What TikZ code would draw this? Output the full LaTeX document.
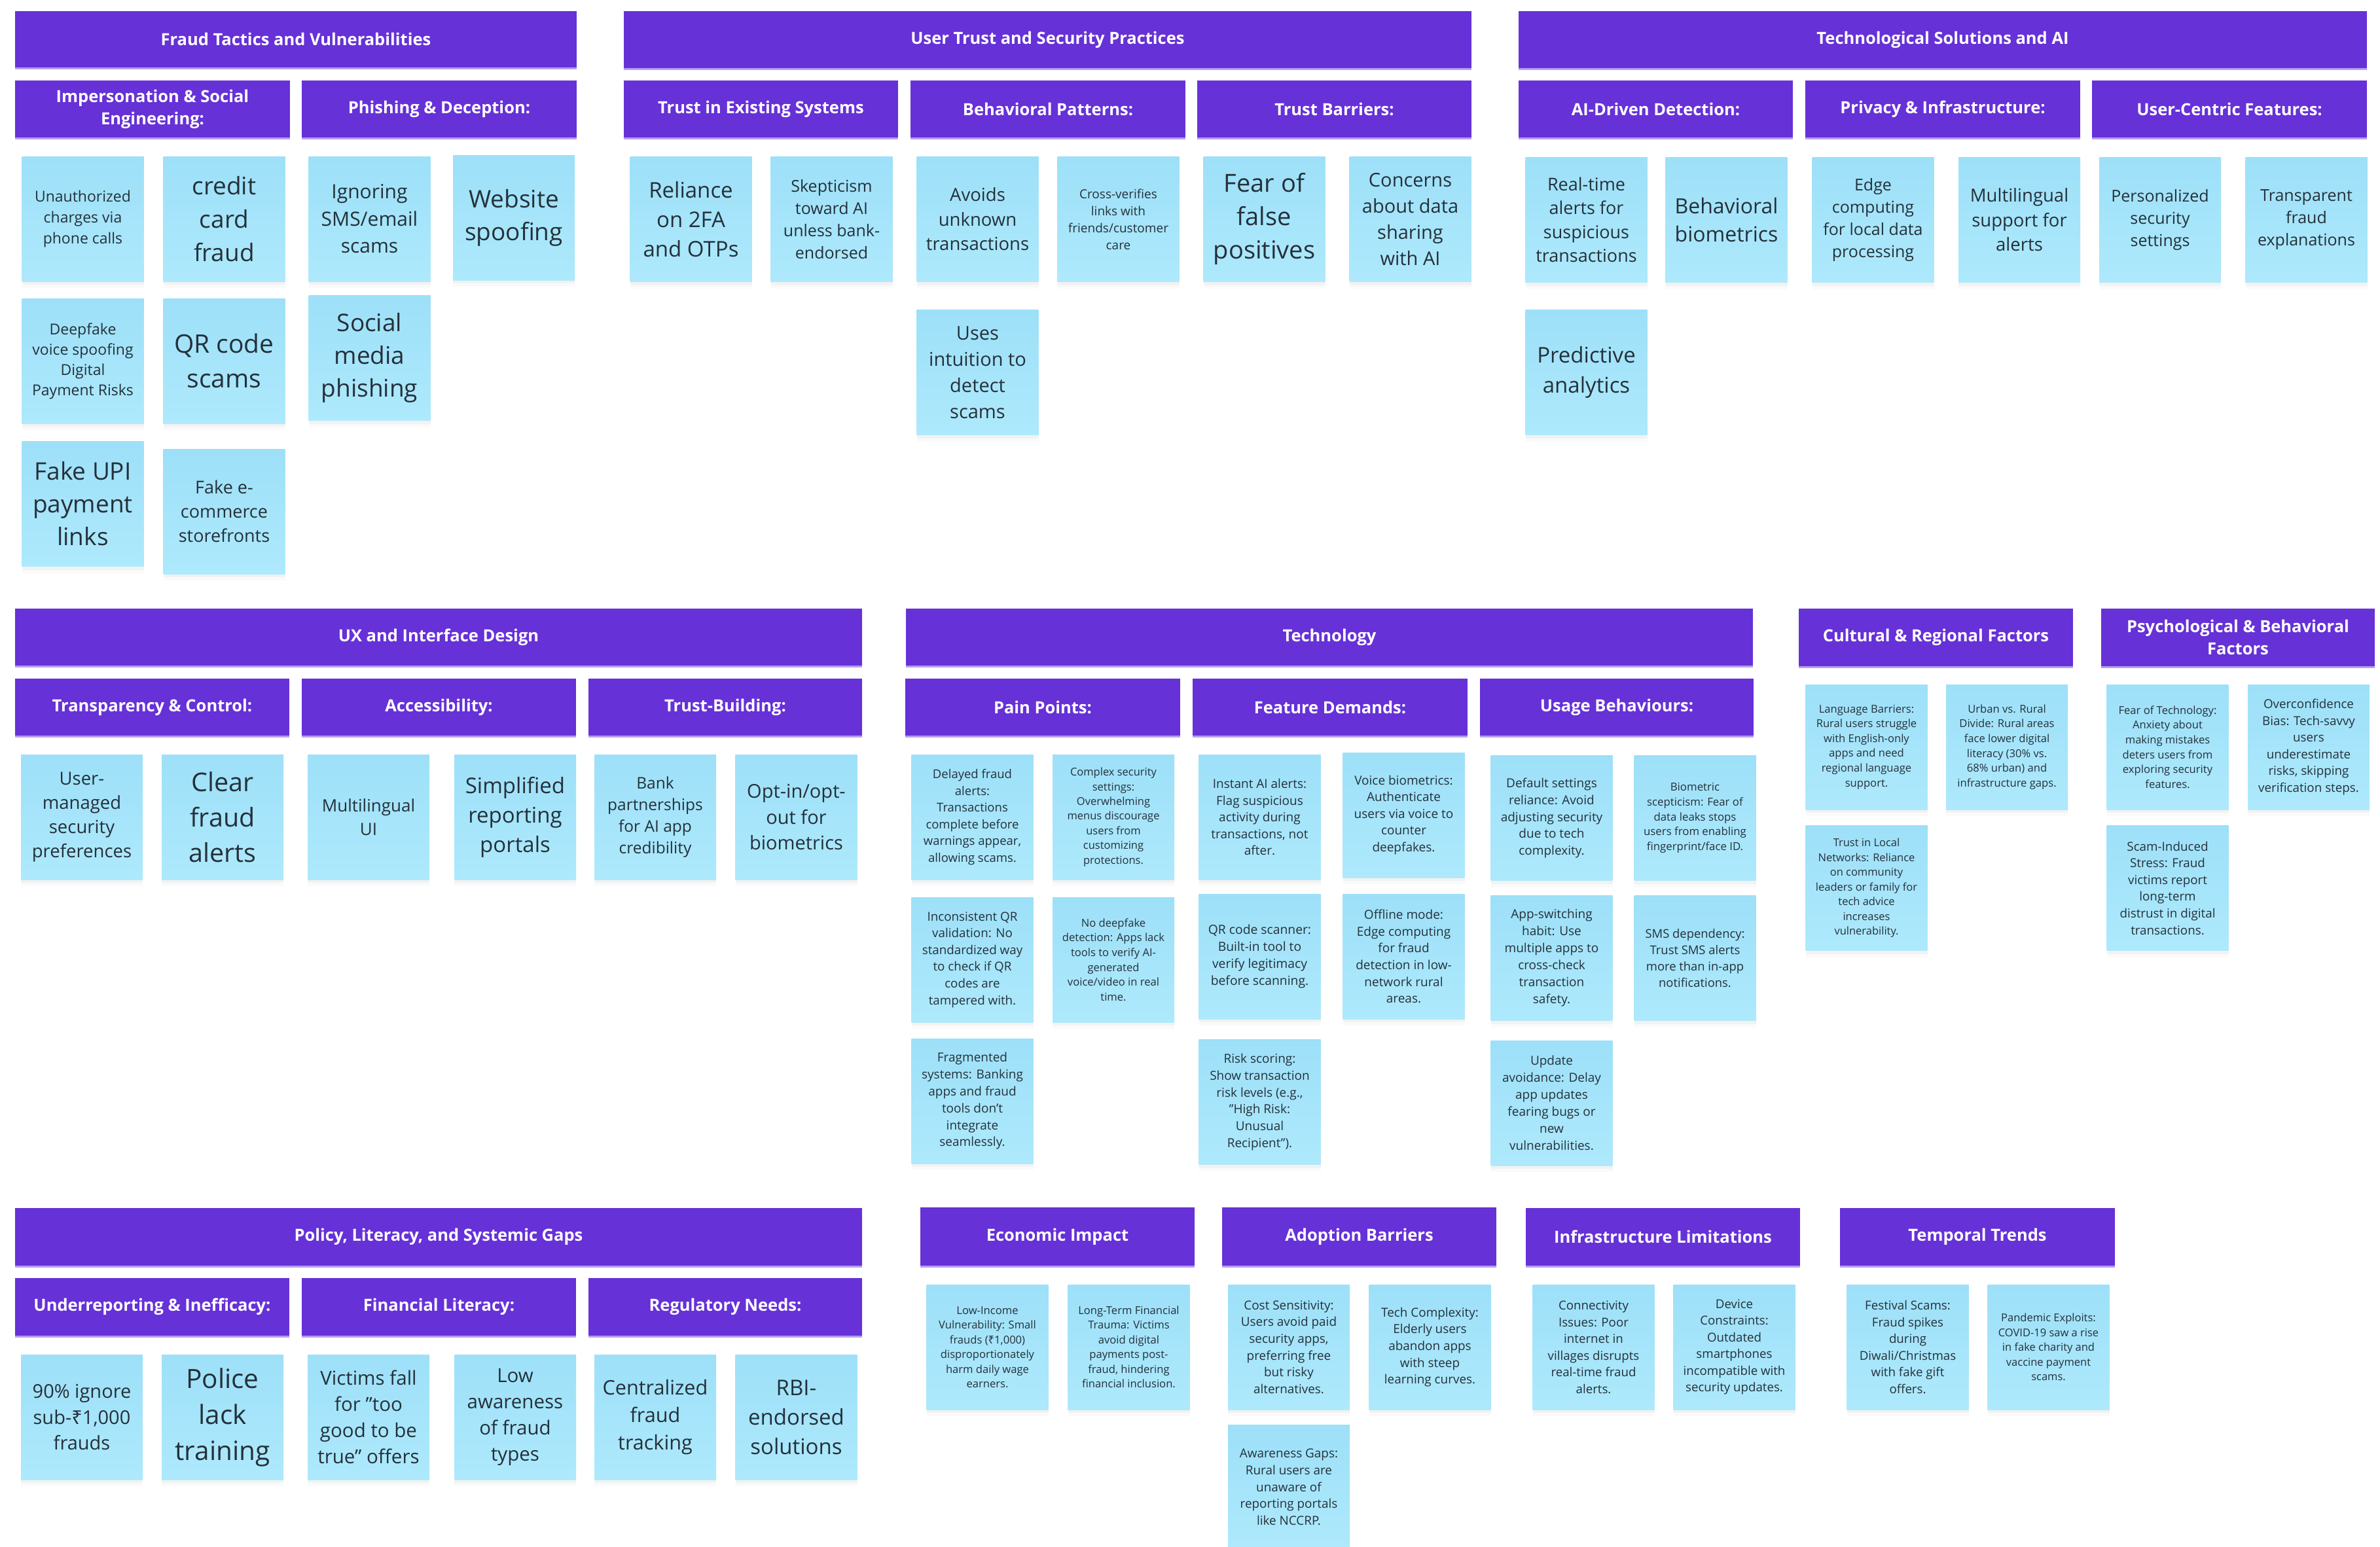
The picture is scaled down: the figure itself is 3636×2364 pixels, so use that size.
\documentclass[tikz,border=0pt]{standalone}
\usepackage{fontspec}
\setmainfont{Open Sans}
\newfontfamily\rupee{Noto Sans}
\usetikzlibrary{shadows}
\definecolor{hdrpurple}{HTML}{6631D7}
\definecolor{hdredge}{HTML}{B69DF0}
\definecolor{stktop}{HTML}{9DE0F8}
\definecolor{stkbot}{HTML}{AEE9FC}
\definecolor{stktext}{HTML}{24303A}
\tikzset{
  hdr/.style={fill=hdrpurple, text=white, align=center, inner sep=0pt,
    font=\bfseries\fontsize{25.5}{34}\selectfont,
    drop shadow={shadow xshift=0pt, shadow yshift=-3pt, fill=hdredge, opacity=1}},
  sticky/.style={top color=stktop, bottom color=stkbot, draw=none,
    minimum width=186pt, minimum height=191pt, inner sep=0pt, align=center, text=stktext,
    drop shadow={shadow xshift=0pt, shadow yshift=-10pt, opacity=0.04},
    drop shadow={shadow xshift=0pt, shadow yshift=-5pt, opacity=0.06}}
}
\newcommand\stk[5]{\node[sticky, font=\fontsize{#3}{#4}\selectfont] (#1) at (#2) {#5};}
\begin{document}
\begin{tikzpicture}[x=1pt, y=-1pt]
\fill[white] (0,0) rectangle (3636,2364);
\useasboundingbox (0,0) rectangle (3636,2364);

% ---------- Row 1 headers ----------
\node[hdr, minimum width=858pt, minimum height=86pt] (H1) at (452,60) {Fraud Tactics and Vulnerabilities};
\node[hdr, minimum width=1295pt, minimum height=87pt] (H2) at (1600.5,60.5) {User Trust and Security Practices};
\node[hdr, minimum width=1296pt, minimum height=87pt] (H3) at (2968,60.5) {Technological Solutions and AI};
\node[hdr, minimum width=420pt, minimum height=87pt] (S11) at (233,166.5) {Impersonation \& Social\\Engineering:};
\node[hdr, minimum width=420pt, minimum height=87pt] (S12) at (671,166.5) {Phishing \& Deception:};
\node[hdr, minimum width=419pt, minimum height=87pt] (S21) at (1162.5,166.5) {Trust in Existing Systems};
\node[hdr, minimum width=420pt, minimum height=87pt] (S22) at (1601,166.5) {Behavioral Patterns:};
\node[hdr, minimum width=419pt, minimum height=87pt] (S23) at (2038.5,166.5) {Trust Barriers:};
\node[hdr, minimum width=419pt, minimum height=87pt] (S31) at (2529.5,166.5) {AI-Driven Detection:};
\node[hdr, minimum width=420pt, minimum height=87pt] (S32) at (2968,166.5) {Privacy \& Infrastructure:};
\node[hdr, minimum width=420pt, minimum height=87pt] (S33) at (3406,166.5) {User-Centric Features:};

% ---------- Fraud stickies ----------
\stk{f1}{126.5,334.5}{23}{31.6}{Unauthorized\\charges via\\phone calls}
\stk{f2}{342.5,334.5}{37}{51}{credit\\card\\fraud}
\stk{f3}{126.5,551.5}{23}{31}{Deepfake\\voice spoofing\\Digital\\Payment Risks}
\stk{f4}{342.5,551.5}{39}{53}{QR code\\scams}
\stk{f5}{126.5,770}{37}{50}{Fake UPI\\payment\\links}
\stk{f6}{342.5,781.5}{27}{37}{Fake e-\\commerce\\storefronts}
\stk{f7}{564.5,334.5}{30}{41.6}{Ignoring\\SMS/email\\scams}
\stk{f8}{785,332.5}{37}{50}{Website\\spoofing}
\stk{f9}{564.5,547}{37}{50}{Social\\media\\phishing}

% ---------- User trust stickies ----------
\stk{u1}{1055.5,335}{33}{45}{Reliance\\on 2FA\\and OTPs}
\stk{u2}{1270.5,335}{25}{34}{Skepticism\\toward AI\\unless bank-\\endorsed}
\stk{u3}{1493.5,335}{27.5}{37.5}{Avoids\\unknown\\transactions}
\stk{u4}{1708.5,335}{19}{26}{Cross-verifies\\links with\\friends/customer\\care}
\stk{u5}{1931.5,335}{38}{51}{Fear of\\false\\positives}
\stk{u6}{2154.5,335}{29}{40}{Concerns\\about data\\sharing\\with AI}
\stk{u7}{1493.5,569}{29}{40}{Uses\\intuition to\\detect\\scams}

% ---------- Tech solutions stickies ----------
\stk{t1}{2423.5,336}{27}{36.5}{Real-time\\alerts for\\suspicious\\transactions}
\stk{t2}{2637.5,336}{32}{43}{Behavioral\\biometrics}
\stk{t3}{2861.5,336}{25}{34}{Edge\\computing\\for local data\\processing}
\stk{t4}{3085,336}{27.5}{37.5}{Multilingual\\support for\\alerts}
\stk{t5}{3300,336}{25}{34}{Personalized\\security\\settings}
\stk{t6}{3523.5,336}{25}{34}{Transparent\\fraud\\explanations}
\stk{t7}{2423.5,569}{33}{45.5}{Predictive\\analytics}

% ---------- Row 2 headers ----------
\node[hdr, minimum width=1294pt, minimum height=87pt] (H4) at (670,973.5) {UX and Interface Design};
\node[hdr, minimum width=419pt, minimum height=87pt] (S41) at (232.5,1080.5) {Transparency \& Control:};
\node[hdr, minimum width=419pt, minimum height=87pt] (S42) at (670.5,1080.5) {Accessibility:};
\node[hdr, minimum width=418pt, minimum height=87pt] (S43) at (1108,1080.5) {Trust-Building:};
\node[hdr, minimum width=1294pt, minimum height=87pt] (H5) at (2031,973.5) {Technology};
\node[hdr, minimum width=420pt, minimum height=87pt] (S51) at (1593,1080.5) {Pain Points:};
\node[hdr, minimum width=420pt, minimum height=87pt] (S52) at (2032,1080.5) {Feature Demands:};
\node[hdr, minimum width=418pt, minimum height=87pt] (S53) at (2470,1080.5) {Usage Behaviours:};
\node[hdr, minimum width=419pt, minimum height=88pt] (H6) at (2957.5,974) {Cultural \& Regional Factors};
\node[hdr, minimum width=418pt, minimum height=88pt] (H7) at (3419,974) {Psychological \& Behavioral\\Factors};

% ---------- UX stickies ----------
\stk{x1}{125,1248.5}{27.5}{37}{User-\\managed\\security\\preferences}
\stk{x2}{340,1248.5}{39.5}{53.7}{Clear\\fraud\\alerts}
\stk{x3}{563,1248.5}{26}{36}{Multilingual\\UI}
\stk{x4}{787,1248.5}{33}{45}{Simplified\\reporting\\portals}
\stk{x5}{1001,1248.5}{24.5}{33}{Bank\\partnerships\\for AI app\\credibility}
\stk{x6}{1216.5,1248.5}{29}{39.5}{Opt-in/opt-\\out for\\biometrics}

% ---------- Technology stickies ----------
\stk{p1}{1485.5,1248.5}{18.5}{25.5}{Delayed fraud\\alerts:\\Transactions\\complete before\\warnings appear,\\allowing scams.}
\stk{p2}{1701,1248.5}{16.5}{22.4}{Complex security\\settings:\\Overwhelming\\menus discourage\\users from\\customizing\\protections.}
\stk{p3}{1485.5,1466.5}{18.8}{25.6}{Inconsistent QR\\validation: No\\standardized way\\to check if QR\\codes are\\tampered with.}
\stk{p4}{1701,1466.5}{16.6}{22.6}{No deepfake\\detection: Apps lack\\tools to verify AI-\\generated\\voice/video in real\\time.}
\stk{p5}{1485.5,1682.5}{19}{25.8}{Fragmented\\systems: Banking\\apps and fraud\\tools don't\\integrate\\seamlessly.}
\stk{d1}{1924.5,1248.5}{19}{25.6}{Instant AI alerts:\\Flag suspicious\\activity during\\transactions, not\\after.}
\stk{d2}{2144.5,1245.5}{19}{25.5}{Voice biometrics:\\Authenticate\\users via voice to\\counter\\deepfakes.}
\stk{d3}{1924.5,1461.5}{19.3}{26.2}{QR code scanner:\\Built-in tool to\\verify legitimacy\\before scanning.}
\stk{d4}{2144.5,1461.5}{19}{25.7}{Offline mode:\\Edge computing\\for fraud\\detection in low-\\network rural\\areas.}
\stk{d5}{1924.5,1684}{19}{25.8}{Risk scoring:\\Show transaction\\risk levels (e.g.,\\"High Risk:\\Unusual\\Recipient").}
\stk{b1}{2370.5,1250}{19}{25.8}{Default settings\\reliance: Avoid\\adjusting security\\due to tech\\complexity.}
\stk{b2}{2589.5,1250}{16.8}{22.8}{Biometric\\scepticism: Fear of\\data leaks stops\\users from enabling\\fingerprint/face ID.}
\stk{b3}{2370.5,1464}{19}{26}{App-switching\\habit: Use\\multiple apps to\\cross-check\\transaction\\safety.}
\stk{b4}{2589.5,1464}{18.4}{25}{SMS dependency:\\Trust SMS alerts\\more than in-app\\notifications.}
\stk{b5}{2370.5,1685.5}{19}{26}{Update\\avoidance: Delay\\app updates\\fearing bugs or\\new\\vulnerabilities.}

% ---------- Cultural / Psychological stickies ----------
\stk{c1}{2851.5,1141.5}{16.6}{22.6}{Language Barriers:\\Rural users struggle\\with English-only\\apps and need\\regional language\\support.}
\stk{c2}{3066,1141.5}{16.6}{22.6}{Urban vs. Rural\\Divide: Rural areas\\face lower digital\\literacy (30\% vs.\\68\% urban) and\\infrastructure gaps.}
\stk{c3}{2851.5,1357}{16.5}{22.5}{Trust in Local\\Networks: Reliance\\on community\\leaders or family for\\tech advice\\increases\\vulnerability.}
\stk{s1}{3311.5,1141.5}{16.6}{22.6}{Fear of Technology:\\Anxiety about\\making mistakes\\deters users from\\exploring security\\features.}
\stk{s2}{3527,1141.5}{18.8}{25.6}{Overconfidence\\Bias: Tech-savvy\\users\\underestimate\\risks, skipping\\verification steps.}
\stk{s3}{3311.5,1357}{18.8}{25.6}{Scam-Induced\\Stress: Fraud\\victims report\\long-term\\distrust in digital\\transactions.}

% ---------- Row 3 headers ----------
\node[hdr, minimum width=1294pt, minimum height=88pt] (H8) at (670,1890) {Policy, Literacy, and Systemic Gaps};
\node[hdr, minimum width=419pt, minimum height=88pt] (S81) at (232.5,1997) {Underreporting \& Inefficacy:};
\node[hdr, minimum width=419pt, minimum height=88pt] (S82) at (670.5,1997) {Financial Literacy:};
\node[hdr, minimum width=418pt, minimum height=88pt] (S83) at (1108,1997) {Regulatory Needs:};
\node[hdr, minimum width=419pt, minimum height=89pt] (H9) at (1615.5,1889.5) {Economic Impact};
\node[hdr, minimum width=419pt, minimum height=89pt] (H10) at (2076.5,1889.5) {Adoption Barriers};
\node[hdr, minimum width=419pt, minimum height=88pt] (H11) at (2540.5,1890) {Infrastructure Limitations};
\node[hdr, minimum width=420pt, minimum height=88pt] (H12) at (3021,1890) {Temporal Trends};

% ---------- Policy stickies ----------
\stk{y1}{125,2165.5}{29}{39.5}{90\% ignore\\sub-{\rupee ₹}1,000\\frauds}
\stk{y2}{340,2165.5}{40.5}{55}{Police\\lack\\training}
\stk{y3}{563,2165.5}{29.5}{40}{Victims fall\\for "too\\good to be\\true" offers}
\stk{y4}{787,2165.5}{29.5}{40}{Low\\awareness\\of fraud\\types}
\stk{y5}{1001,2165.5}{30.6}{41.7}{Centralized\\fraud\\tracking}
\stk{y6}{1216.5,2165.5}{33}{45}{RBI-\\endorsed\\solutions}

% ---------- Economic / Adoption stickies ----------
\stk{e1}{1508.5,2058.5}{16.6}{22.5}{Low-Income\\Vulnerability: Small\\frauds ({\rupee ₹}1,000)\\disproportionately\\harm daily wage\\earners.}
\stk{e2}{1724.5,2058.5}{16.6}{22.5}{Long-Term Financial\\Trauma: Victims\\avoid digital\\payments post-\\fraud, hindering\\financial inclusion.}
\stk{a1}{1969,2058.5}{18.9}{25.7}{Cost Sensitivity:\\Users avoid paid\\security apps,\\preferring free\\but risky\\alternatives.}
\stk{a2}{2184.5,2058.5}{18.9}{25.7}{Tech Complexity:\\Elderly users\\abandon apps\\with steep\\learning curves.}
\stk{a3}{1969,2272.5}{18.9}{25.7}{Awareness Gaps:\\Rural users are\\unaware of\\reporting portals\\like NCCRP.}

% ---------- Infrastructure / Temporal stickies ----------
\stk{i1}{2434.5,2058.5}{18.7}{25.5}{Connectivity\\Issues: Poor\\internet in\\villages disrupts\\real-time fraud\\alerts.}
\stk{i2}{2649.5,2058.5}{18.7}{25.5}{Device\\Constraints:\\Outdated\\smartphones\\incompatible with\\security updates.}
\stk{m1}{2914.5,2058.5}{18.7}{25.5}{Festival Scams:\\Fraud spikes\\during\\Diwali/Christmas\\with fake gift\\offers.}
\stk{m2}{3129.5,2058.5}{16.5}{22.5}{Pandemic Exploits:\\COVID-19 saw a rise\\in fake charity and\\vaccine payment\\scams.}
\end{tikzpicture}
\end{document}
